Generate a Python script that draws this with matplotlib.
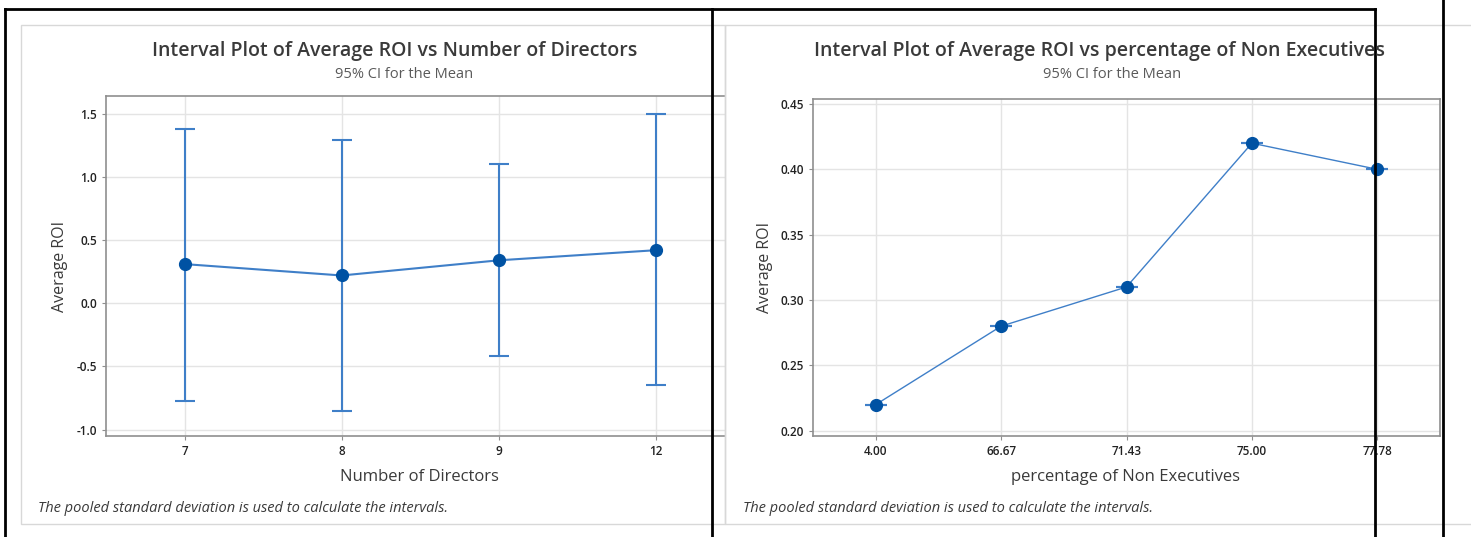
import numpy as np
import matplotlib
matplotlib.use("Agg")
import matplotlib.pyplot as plt
from matplotlib.patches import Rectangle
from matplotlib.lines import Line2D

plt.rcParams['font.family'] = ['Open Sans', 'DejaVu Sans']

# Number of directors: group means and 95% CI limits
directors = ["7", "8", "9", "12"]
dir_mean = [0.31, 0.22, 0.34, 0.42]
dir_lower = [-0.77, -0.85, -0.42, -0.65]
dir_upper = [1.38, 1.29, 1.10, 1.50]

# Percentage of non executives: group means (intervals collapse to the mean)
nonexec = ["4.00", "66.67", "71.43", "75.00", "77.78"]
ne_mean = [0.22, 0.28, 0.31, 0.42, 0.40]
ne_lower = [0.22, 0.28, 0.31, 0.42, 0.40]
ne_upper = [0.22, 0.28, 0.31, 0.42, 0.40]

W, H = 1471, 537
fig = plt.figure(figsize=(W / 100, H / 100), dpi=100)
fig.patch.set_facecolor("white")

LINE_BLUE = "#3f7fc8"
DOT_BLUE = "#0052a3"
GRID = "#e4e4e4"
FRAME = "#8f8f8f"
TXT = "#3a3a3a"


def px_axes(x0, y0, x1, y1):
    # pixel box (top-left origin) -> figure fraction axes
    return fig.add_axes([x0 / W, 1 - y1 / H, (x1 - x0) / W, (y1 - y0) / H])


def style(ax):
    ax.set_facecolor("white")
    ax.grid(True, color=GRID, linewidth=1.0)
    ax.set_axisbelow(True)
    for s in ax.spines.values():
        s.set_color(FRAME)
        s.set_linewidth(1.2)
    ax.tick_params(axis="both", colors=FRAME, labelcolor="#222222",
                   labelsize=8.5, length=3, width=0.8)
    for lab in ax.get_xticklabels() + ax.get_yticklabels():
        lab.set_fontweight("semibold")
    ax.set_ylabel("Average ROI", fontsize=11.5, color=TXT)


def interval(ax, mean, lo, hi, lw, capsize, ms):
    x = np.arange(len(mean))
    mean = np.array(mean)
    yerr = np.vstack([mean - np.array(lo), np.array(hi) - mean])
    ax.plot(x, mean, color=LINE_BLUE, linewidth=lw, zorder=2)
    ax.errorbar(x, mean, yerr=yerr, fmt="none", ecolor=LINE_BLUE,
                elinewidth=1.5, capsize=capsize, capthick=1.5, zorder=3)
    ax.plot(x, mean, "o", color=DOT_BLUE, markersize=ms, zorder=4)
    return x


# left chart
ax1 = px_axes(106, 96, 725, 436)
x1 = interval(ax1, dir_mean, dir_lower, dir_upper, 1.5, 7, 8.5)
ax1.set_xticks(x1)
ax1.set_xticklabels(directors)
ax1.set_xlim(-0.5, 3.44)
ax1.set_ylim(-1.05, 1.64)
ax1.set_yticks([-1.0, -0.5, 0.0, 0.5, 1.0, 1.5])
ax1.set_yticklabels(["-1.0", "-0.5", "0.0", "0.5", "1.0", "1.5"])
style(ax1)
ax1.spines["right"].set_visible(False)
ax1.yaxis.set_label_coords(-0.061, 0.5)

# right chart
ax2 = px_axes(813, 99, 1440, 436)
x2 = interval(ax2, ne_mean, ne_lower, ne_upper, 1.0, 8, 8.5)
ax2.set_xticks(x2)
ax2.set_xticklabels(nonexec)
ax2.set_xlim(-0.5, 4.5)
ax2.set_ylim(0.196, 0.4538)
ax2.set_yticks([0.20, 0.25, 0.30, 0.35, 0.40, 0.45])
ax2.set_yticklabels(["0.20", "0.25", "0.30", "0.35", "0.40", "0.45"])
style(ax2)
ax2.yaxis.set_label_coords(-0.064, 0.5)

# overlay in pixel coordinates for panel frames, titles and notes
ov = fig.add_axes([0, 0, 1, 1], zorder=10)
ov.set_xlim(0, W)
ov.set_ylim(H, 0)
ov.axis("off")
ov.patch.set_visible(False)

ov.add_patch(Rectangle((21, 25), 704, 499, fill=False, edgecolor="#d8d8d8", linewidth=1))
ov.add_patch(Rectangle((725, 25), 760, 499, fill=False, edgecolor="#d8d8d8", linewidth=1))

note = "The pooled standard deviation is used to calculate the intervals."

ov.text(395, 51, "Interval Plot of Average ROI vs Number of Directors",
        ha="center", va="center", fontsize=14, color=TXT, fontweight="semibold")
ov.text(404, 75, "95% CI for the Mean", ha="center", va="center", fontsize=10.5, color="#5a5a5a")
ov.text(419, 477, "Number of Directors", ha="center", va="center", fontsize=12, color=TXT)
ov.text(38, 508, note, ha="left", va="center", fontsize=10.5, style="italic", color=TXT)

ov.text(1100, 51, "Interval Plot of Average ROI vs percentage of Non Executives",
        ha="center", va="center", fontsize=14, color=TXT, fontweight="semibold")
ov.text(1112, 75, "95% CI for the Mean", ha="center", va="center", fontsize=10.5, color="#5a5a5a")
ov.text(1126, 477, "percentage of Non Executives", ha="center", va="center", fontsize=12, color=TXT)
ov.text(743, 508, note, ha="left", va="center", fontsize=10.5, style="italic", color=TXT)

# table borders
for xs, ys in [((5, 1375), (9, 9)), ((5.5, 5.5), (9, H)), ((712, 712), (9, H)),
               ((1375, 1375), (9, H)), ((1443, 1443), (0, H))]:
    ov.add_line(Line2D(xs, ys, color="black", linewidth=2))

fig.savefig("out.png", dpi=100)
